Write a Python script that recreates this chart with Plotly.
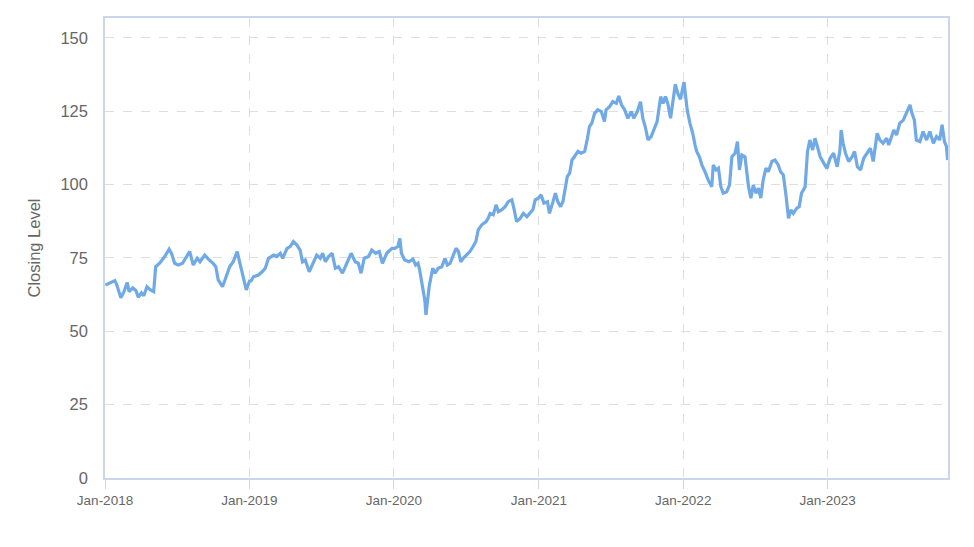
import plotly.graph_objects as go

dates = [
    "2018-01-02","2018-01-13","2018-01-26","2018-01-31","2018-02-10","2018-02-18","2018-02-26","2018-03-03",
    "2018-03-12","2018-03-20","2018-03-26","2018-04-03","2018-04-09","2018-04-17","2018-04-26","2018-05-04",
    "2018-05-09","2018-05-19","2018-06-01","2018-06-12","2018-06-18","2018-06-26","2018-07-05","2018-07-16",
    "2018-07-26","2018-08-03","2018-08-12","2018-08-22","2018-08-29","2018-09-10","2018-09-19","2018-10-01",
    "2018-10-08","2018-10-14","2018-10-25","2018-11-02","2018-11-12","2018-11-21","2018-12-01","2018-12-08",
    "2018-12-16","2018-12-24",
    "2019-01-02","2019-01-04","2019-01-11","2019-01-24","2019-02-02","2019-02-10","2019-02-18","2019-03-03",
    "2019-03-11","2019-03-20","2019-03-26","2019-04-06","2019-04-14","2019-04-22","2019-05-01","2019-05-09",
    "2019-05-15","2019-05-22","2019-06-01","2019-06-12","2019-06-20","2019-06-29","2019-07-05","2019-07-12",
    "2019-07-20","2019-07-29","2019-08-06","2019-08-14","2019-08-24","2019-09-04","2019-09-15","2019-09-25",
    "2019-10-03","2019-10-10","2019-10-18","2019-10-29","2019-11-06","2019-11-16","2019-11-25","2019-12-03",
    "2019-12-14","2019-12-27",
    "2020-01-03","2020-01-11","2020-01-16","2020-01-20","2020-01-28","2020-02-08","2020-02-18","2020-02-25",
    "2020-03-02","2020-03-06","2020-03-11","2020-03-15","2020-03-19","2020-03-22","2020-03-25","2020-03-30",
    "2020-04-08","2020-04-14","2020-04-22","2020-05-01","2020-05-09","2020-05-15","2020-05-22","2020-05-30",
    "2020-06-06","2020-06-12","2020-06-18","2020-06-24","2020-07-03","2020-07-11","2020-07-19","2020-07-26",
    "2020-08-01","2020-08-10","2020-08-21","2020-08-26","2020-08-31","2020-09-08","2020-09-15","2020-09-21",
    "2020-09-29","2020-10-08","2020-10-16","2020-10-25","2020-10-31","2020-11-06","2020-11-15","2020-11-23",
    "2020-12-02","2020-12-10","2020-12-17","2020-12-23","2020-12-31",
    "2021-01-07","2021-01-14","2021-01-23","2021-01-28","2021-02-06","2021-02-12","2021-02-18","2021-02-25",
    "2021-03-03","2021-03-09","2021-03-14","2021-03-20","2021-03-26","2021-04-01","2021-04-10","2021-04-18",
    "2021-04-27","2021-05-04","2021-05-09","2021-05-15","2021-05-22","2021-05-30","2021-06-08","2021-06-16",
    "2021-06-20","2021-06-29","2021-07-07","2021-07-16","2021-07-22","2021-07-29","2021-08-06","2021-08-14",
    "2021-08-23","2021-08-29","2021-09-07","2021-09-15","2021-09-21","2021-09-27","2021-10-04","2021-10-12",
    "2021-10-21","2021-10-27","2021-11-05","2021-11-11","2021-11-17","2021-11-23","2021-11-30","2021-12-06",
    "2021-12-12","2021-12-18","2021-12-25",
    "2022-01-03","2022-01-06","2022-01-11","2022-01-18","2022-01-25","2022-01-31","2022-02-04","2022-02-11",
    "2022-02-17","2022-02-25","2022-03-05","2022-03-14","2022-03-18","2022-03-25","2022-03-31","2022-04-06",
    "2022-04-12","2022-04-21","2022-04-28","2022-05-04","2022-05-12","2022-05-18","2022-05-23","2022-05-29",
    "2022-06-06","2022-06-15","2022-06-21","2022-06-27","2022-07-04","2022-07-10","2022-07-16","2022-07-22",
    "2022-07-29","2022-08-04","2022-08-13","2022-08-21","2022-08-29","2022-09-04","2022-09-11","2022-09-18",
    "2022-09-24","2022-09-30","2022-10-06","2022-10-15","2022-10-21","2022-10-27","2022-11-05","2022-11-11",
    "2022-11-17","2022-11-24","2022-11-30","2022-12-06","2022-12-13","2022-12-21","2022-12-30",
    "2023-01-07","2023-01-16","2023-01-25","2023-02-01","2023-02-04","2023-02-09","2023-02-15","2023-02-23",
    "2023-03-04","2023-03-10","2023-03-17","2023-03-25","2023-04-02","2023-04-11","2023-04-19","2023-04-26",
    "2023-05-02","2023-05-06","2023-05-13","2023-05-21","2023-05-30","2023-06-04","2023-06-10","2023-06-17",
    "2023-06-24","2023-07-02","2023-07-11","2023-07-19","2023-07-28","2023-08-02","2023-08-08","2023-08-13",
    "2023-08-22","2023-08-30","2023-09-08","2023-09-16","2023-09-25","2023-10-03","2023-10-11","2023-10-17",
    "2023-10-23","2023-10-28","2023-10-31",
]

closing = [
    65.8,66.6,67.3,65.8,61.4,63.5,66.6,63.5,
    64.8,63.9,61.6,63.1,62.1,65.2,64.1,63.5,
    72.0,73.2,75.5,78.0,76.6,73.2,72.6,73.2,
    75.5,77.2,72.6,74.9,73.7,76.0,74.6,73.2,
    72.0,67.5,65.2,68.6,72.0,73.7,77.2,73.2,
    68.1,64.1,
    67.5,66.9,68.6,69.2,70.3,71.5,74.9,76.0,
    75.5,76.6,74.9,78.3,78.9,80.6,79.4,77.7,
    73.7,74.3,70.3,73.7,76.0,74.9,76.6,73.7,
    75.5,76.6,71.5,72.0,69.8,73.2,76.6,73.7,
    73.2,69.8,74.9,75.5,77.7,76.6,77.2,73.2,
    76.6,78.3,
    78.3,78.9,81.7,76.6,74.3,73.7,74.6,72.6,
    73.2,70.9,67.5,64.1,60.7,55.6,59.6,65.2,
    71.5,69.8,71.5,72.0,74.9,72.6,73.2,76.0,
    78.3,77.2,73.7,74.9,76.0,77.2,78.9,80.6,
    84.6,86.3,87.4,88.5,90.2,89.7,93.1,90.8,
    91.4,92.5,94.2,94.8,91.4,87.4,88.5,90.2,
    89.1,90.2,91.4,94.8,95.4,
    96.5,93.7,94.2,90.2,94.2,97.1,94.2,92.5,
    94.2,98.8,102.7,103.9,108.4,109.5,111.3,110.7,
    111.3,115.8,119.8,120.9,124.3,125.5,124.9,121.5,
    125.5,126.6,128.3,127.7,130.2,127.2,125.5,122.6,
    124.9,122.6,124.9,128.3,122.6,119.8,115.2,116.4,
    119.2,121.5,130.0,127.7,130.0,127.7,122.6,129.1,
    134.2,131.2,129.1,
    135.0,131.2,125.5,120.9,117.5,113.5,111.3,109.5,
    106.7,104.4,101.6,99.3,106.7,105.0,105.6,99.3,
    97.1,97.6,99.9,109.5,110.7,114.7,105.0,110.1,
    109.5,99.3,95.4,99.9,97.1,98.8,95.4,101.6,
    105.6,104.4,107.9,108.4,106.7,104.4,103.3,95.9,
    88.5,91.4,90.2,92.0,92.5,97.1,99.3,111.3,
    115.2,111.8,115.8,113.0,109.5,107.6,105.5,
    109.0,110.7,106.1,111.8,118.6,114.1,110.7,107.9,
    109.5,111.3,106.1,105.0,109.0,110.7,112.4,107.9,
    114.1,117.5,115.2,114.1,115.8,113.5,115.8,118.6,
    116.9,120.9,122.0,124.3,127.2,124.3,122.0,115.2,
    114.7,118.1,115.2,118.1,114.1,116.4,115.2,120.4,
    114.7,113.0,108.4,
]

y_ticks = [0, 25, 50, 75, 100, 125, 150]
x_ticks = ["2018-01-01", "2019-01-01", "2020-01-01", "2021-01-01", "2022-01-01", "2023-01-01"]
x_tick_labels = ["Jan-2018", "Jan-2019", "Jan-2020", "Jan-2021", "Jan-2022", "Jan-2023"]

fig = go.Figure(
    go.Scatter(
        x=dates, y=closing, mode="lines",
        line=dict(color="#6fa9e6", width=3.2),
        hoverinfo="x+y",
    )
)

fig.update_layout(
    width=974, height=547,
    margin=dict(l=105, r=26, t=18, b=69),
    paper_bgcolor="white", plot_bgcolor="white",
    font=dict(family="Liberation Sans, Arial, sans-serif", color="#666666"),
    showlegend=False,
)

fig.update_xaxes(
    type="date",
    range=["2018-01-01", "2023-11-01"],
    tickvals=x_ticks, ticktext=x_tick_labels,
    tickfont=dict(size=13.5, color="#666666"),
    ticks="outside", ticklen=9, tickcolor="#ccd6eb", tickwidth=1,
    showline=True, linecolor="#ccd6eb", linewidth=1.5, mirror=True,
    showgrid=True, gridcolor="#dedede", griddash="dash", gridwidth=1,
    zeroline=False,
)

fig.update_yaxes(
    range=[0, 156.8],
    tickvals=y_ticks,
    tickfont=dict(size=16.5, color="#666666"),
    ticks="", ticklabelstandoff=12,
    showline=True, linecolor="#ccd6eb", linewidth=1.5, mirror=True,
    showgrid=True, gridcolor="#dedede", griddash="dash", gridwidth=1,
    zeroline=False,
    title=dict(text="Closing Level", font=dict(size=16.5, color="#666666"), standoff=16),
)

fig.write_html("out.html")
